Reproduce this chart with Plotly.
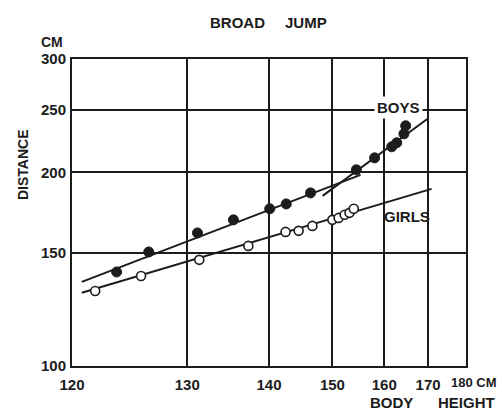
import plotly.graph_objects as go

# ---------------- data ----------------
boys_height = [123.4, 126.2, 131.1, 135.3, 140.1, 142.5, 146.3, 154.4, 158.0, 161.6, 162.7, 164.3, 164.7]
boys_distance = [140.0, 150.4, 161.0, 168.7, 175.5, 178.6, 185.8, 201.8, 210.6, 219.1, 222.3, 229.5, 236.2]

girls_height = [121.7, 125.5, 131.3, 137.2, 142.4, 144.4, 146.6, 150.0, 151.1, 152.2, 153.1, 153.9]
girls_distance = [130.8, 138.0, 146.2, 153.7, 161.6, 162.2, 165.1, 168.7, 169.9, 171.8, 173.0, 175.5]

# fitted lines (end points)
boys_fit1_height = [120.7, 155.2]
boys_fit1_distance = [135.1, 198.2]
boys_fit2_height = [148.3, 169.9]
boys_fit2_distance = [183.8, 242.2]
girls_fit_height = [120.7, 170.9]
girls_fit_distance = [130.0, 188.5]

x_ticks = [120, 130, 140, 150, 160, 170, 180]
x_tick_labels = ["120", "130", "140", "150", "160", "170", ""]
y_ticks = [100, 150, 200, 250, 300]
y_tick_labels = ["100", "150", "200", "250", "300"]

# horizontal axis is log(height - 100 cm)
X_OFFSET = 100


def xs(values):
    return [v - X_OFFSET for v in values]


# ---------------- layout geometry ----------------
W, H = 502, 410
L, R, T, B = 72, 466, 59, 366


def px(x):
    return (x - L) / (R - L)


def py(y):
    return (B - y) / (B - T)


FONT = "Liberation Sans"
INK = "#1c1c1c"

fig = go.Figure()

line_style = dict(color=INK, width=2)
fig.add_trace(go.Scatter(x=xs(boys_fit1_height), y=boys_fit1_distance, mode="lines",
                         line=line_style, showlegend=False, hoverinfo="skip"))
fig.add_trace(go.Scatter(x=xs(boys_fit2_height), y=boys_fit2_distance, mode="lines",
                         line=line_style, showlegend=False, hoverinfo="skip"))
fig.add_trace(go.Scatter(x=xs(girls_fit_height), y=girls_fit_distance, mode="lines",
                         line=line_style, showlegend=False, hoverinfo="skip"))

fig.add_trace(go.Scatter(x=xs(boys_height), y=boys_distance, mode="markers", name="Boys",
                         marker=dict(size=10, color=INK, line=dict(color=INK, width=1)),
                         showlegend=False))
fig.add_trace(go.Scatter(x=xs(girls_height), y=girls_distance, mode="markers", name="Girls",
                         marker=dict(size=9, color="white", line=dict(color=INK, width=1.6)),
                         showlegend=False))

tick_font = dict(family=FONT, size=15, color=INK, weight="bold")

fig.update_xaxes(
    type="log",
    range=[1.30103, 1.90309],
    tickvals=xs(x_ticks), ticktext=x_tick_labels,
    showgrid=True, gridcolor=INK, gridwidth=1.6,
    showline=True, linecolor=INK, linewidth=2, mirror=True,
    ticks="", tickfont=tick_font, zeroline=False,
    ticklabelstandoff=4,
)
fig.update_yaxes(
    type="log",
    range=[2.0, 2.47712],
    tickvals=y_ticks, ticktext=y_tick_labels,
    showgrid=True, gridcolor=INK, gridwidth=1.6,
    showline=True, linecolor=INK, linewidth=2, mirror=True,
    ticks="", tickfont=tick_font, zeroline=False,
    ticklabelstandoff=1,
)


def txt(text, x, y, size=15, angle=0, bg=None):
    d = dict(text=text, x=px(x), y=py(y), xref="paper", yref="paper",
             showarrow=False, xanchor="center", yanchor="middle", textangle=angle,
             font=dict(family=FONT, size=size, color=INK, weight="bold"))
    if bg:
        d.update(bgcolor=bg, borderpad=2)
    fig.add_annotation(**d)


txt("BROAD", 237.5, 22.5)
txt("JUMP", 306, 22.5)
txt("CM", 52, 42, size=14)
txt("DISTANCE", 23, 165, size=14, angle=-90)
txt("BODY", 391.5, 402)
txt("HEIGHT", 466, 402)
txt("BOYS", 398, 108, bg="white")
txt("GIRLS", 407, 216)
fig.add_annotation(text="180 CM", x=px(499), y=py(382), xref="paper", yref="paper",
                   showarrow=False, xanchor="right", yanchor="middle",
                   font=dict(family=FONT, size=13, color=INK, weight="bold"))

fig.update_layout(
    width=W, height=H,
    margin=dict(l=L, r=W - R, t=T, b=H - B),
    paper_bgcolor="white", plot_bgcolor="white",
    showlegend=False,
)

fig.write_html("out.html")
